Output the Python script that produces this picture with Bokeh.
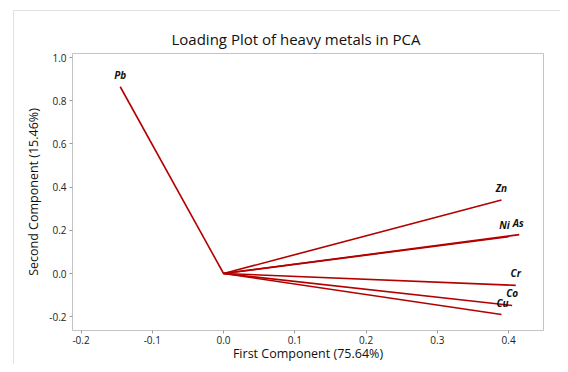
from bokeh.plotting import figure
from bokeh.models import ColumnDataSource, Range1d, FixedTicker, NumeralTickFormatter
from bokeh.core.properties import value
from bokeh.embed import file_html
from bokeh.resources import INLINE

# Loadings
metals = ["Pb", "Zn", "Ni", "As", "Cr", "Co", "Cu"]
pc1 = [-0.145, 0.390, 0.400, 0.415, 0.410, 0.405, 0.390]
pc2 = [0.865, 0.340, 0.170, 0.180, -0.055, -0.148, -0.190]

x_ticks = [-0.2, -0.1, 0.0, 0.1, 0.2, 0.3, 0.4]
y_ticks = [-0.2, 0.0, 0.2, 0.4, 0.6, 0.8, 1.0]

title_text = "Loading Plot of heavy metals in PCA"
x_label = "First Component (75.64%)"
y_label = "Second Component (15.46%)"

FONT = "Open Sans"
RED = "#b30000"
EDGE = "#e2e2e2"

label_dx = {"Ni": -4, "As": -1, "Cu": 1}

src = ColumnDataSource(dict(
    name=metals,
    x0=[0.0] * len(metals), y0=[0.0] * len(metals),
    x1=pc1, y1=pc2,
    dx=[label_dx.get(m, 0) for m in metals],
))

p = figure(width=560, height=364, output_backend="svg", toolbar_location=None,
           x_range=Range1d(-0.212, 0.449), y_range=Range1d(-0.264, 1.019),
           min_border_left=72, min_border_right=17, min_border_top=53,
           min_border_bottom=34, title=title_text)

# faint window edge seen around the reference graph
p.styles = {
    "background": (
        f"linear-gradient({EDGE},{EDGE}) 13px 10px / 1px 100% no-repeat, "
        f"linear-gradient({EDGE},{EDGE}) 13px 10px / 100% 1px no-repeat, white"
    )
}

p.title.text_font = FONT
p.title.text_font_size = "15px"
p.title.text_font_style = "normal"
p.title.text_color = "#111111"
p.title.align = "left"
p.title.offset = 99

p.segment(x0="x0", y0="y0", x1="x1", y1="y1", source=src,
          line_color=RED, line_width=1.6)
p.text(x="x1", y="y1", text="name", source=src, x_offset="dx", y_offset=-5,
       text_align="center", text_baseline="bottom",
       text_font=value(FONT), text_font_size="10px",
       text_font_style="bold italic", text_color="#111111")

p.xgrid.visible = False
p.ygrid.visible = False
p.outline_line_color = "#c4c4c4"
p.outline_line_width = 1
p.background_fill_color = "white"
p.border_fill_color = None

p.xaxis.ticker = FixedTicker(ticks=x_ticks)
p.yaxis.ticker = FixedTicker(ticks=y_ticks)
p.xaxis.formatter = NumeralTickFormatter(format="0.0")
p.yaxis.formatter = NumeralTickFormatter(format="0.0")

for ax in (p.xaxis, p.yaxis):
    ax.axis_line_color = None
    ax.major_tick_line_color = "#9a9a9a"
    ax.major_tick_in = 0
    ax.major_tick_out = 3
    ax.minor_tick_line_color = None
    ax.major_label_text_font = FONT
    ax.major_label_text_font_size = "10px"
    ax.major_label_text_color = "#222222"
    ax.major_label_standoff = 3
    ax.axis_label_text_font = FONT
    ax.axis_label_text_font_size = "12.5px"
    ax.axis_label_text_font_style = "normal"
    ax.axis_label_text_color = "#111111"
    ax.axis_label_standoff = 4

p.xaxis.major_label_standoff = 2
p.xaxis.axis_label_standoff = -2

p.xaxis.axis_label = x_label
p.yaxis.axis_label = y_label

open("out.html", "w").write(file_html(p, INLINE))
